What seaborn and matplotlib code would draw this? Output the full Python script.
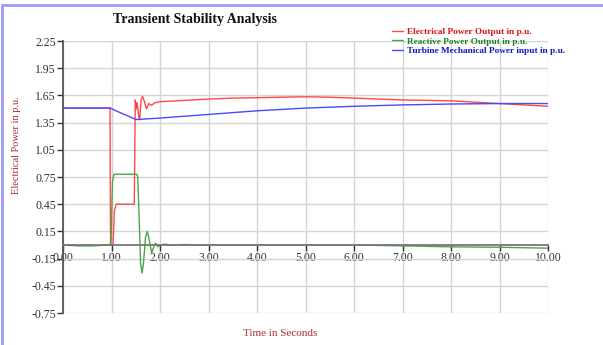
import pandas as pd
import matplotlib.pyplot as plt
import seaborn as sns
from matplotlib.patches import Rectangle

# series
elec_t = [0.0, 0.97, 0.98, 1.03, 1.06, 1.10, 1.47, 1.49, 1.51, 1.53, 1.56, 1.58, 1.61, 1.64,
          1.68, 1.72, 1.77, 1.82, 1.90, 2.0, 2.5, 3.0, 3.5, 4.0, 4.5, 5.0, 5.5, 6.0, 6.5,
          7.0, 7.5, 8.0, 8.5, 9.0, 9.5, 10.0]
elec_v = [1.51, 1.51, 0.0, 0.0, 0.38, 0.45, 0.45, 1.60, 1.50, 1.57, 1.42, 1.38, 1.60, 1.64,
          1.58, 1.50, 1.56, 1.54, 1.57, 1.58, 1.595, 1.61, 1.62, 1.625, 1.63, 1.635, 1.63,
          1.62, 1.61, 1.60, 1.595, 1.59, 1.575, 1.56, 1.545, 1.53]

reac_t = [0.0, 0.3, 0.6, 0.95, 0.99, 1.02, 1.05, 1.52, 1.54, 1.57, 1.60, 1.63, 1.66, 1.70,
          1.74, 1.78, 1.83, 1.87, 1.91, 1.96, 2.0, 2.1, 2.2, 2.5, 3.0, 4.0, 5.0, 6.0, 7.0,
          8.0, 9.0, 10.0]
reac_v = [0.0, -0.01, -0.01, 0.0, 0.02, 0.70, 0.78, 0.78, 0.76, 0.30, -0.20, -0.31, -0.20,
          0.08, 0.15, 0.05, -0.09, -0.02, 0.02, -0.02, 0.0, 0.01, 0.0, 0.005, 0.0, 0.0, 0.0,
          0.0, -0.01, -0.02, -0.025, -0.035]

mech_t = [0.0, 0.98, 1.05, 1.50, 1.55, 2.0, 3.0, 4.0, 5.0, 6.0, 7.0, 8.0, 9.0, 10.0]
mech_v = [1.51, 1.51, 1.49, 1.385, 1.385, 1.40, 1.44, 1.48, 1.51, 1.53, 1.545, 1.555, 1.56, 1.56]

series_names = ['Electrical Power Output in p.u.', 'Reactive Power Output in p.u.',
                'Turbine Mechanical Power input in p.u.']
line_colors = ['#ff4848', '#48a848', '#4848ff']
text_colors = ['#e01010', '#208020', '#1515d0']

y_ticks = [2.25, 1.95, 1.65, 1.35, 1.05, 0.75, 0.45, 0.15, -0.15, -0.45, -0.75]
x_ticks = list(range(0, 11))

df = pd.concat([
    pd.DataFrame({'t': elec_t, 'v': elec_v, 'series': series_names[0]}),
    pd.DataFrame({'t': reac_t, 'v': reac_v, 'series': series_names[1]}),
    pd.DataFrame({'t': mech_t, 'v': mech_v, 'series': series_names[2]}),
])

sns.set_style('white')
plt.rcParams['font.family'] = ['Liberation Serif', 'DejaVu Serif']

fig = plt.figure(figsize=(6.03, 3.45), dpi=100)
ax = fig.add_axes([63 / 603, 1 - 313 / 345, 485 / 603, 272 / 345])

sns.lineplot(data=df, x='t', y='v', hue='series', palette=dict(zip(series_names, line_colors)),
             estimator=None, sort=False, linewidth=1.0, ax=ax)

ax.set_xlim(0, 10)
ax.set_ylim(-0.75, 2.25)
ax.set_xticks(x_ticks)
ax.set_xticklabels([f'{x:.2f}' for x in x_ticks])
ax.set_yticks(y_ticks)
ax.set_yticklabels([f'{y:.2f}' for y in y_ticks])
ax.grid(True, color='#d4d4d4', linewidth=1.0)
ax.set_axisbelow(True)
for s in ['top', 'right']:
    ax.spines[s].set_visible(False)
ax.spines['bottom'].set_position(('data', 0))
ax.spines['bottom'].set_color('#777777')
ax.spines['left'].set_color('#555555')
ax.spines['bottom'].set_linewidth(1.3)
ax.spines['left'].set_linewidth(1.3)
ax.tick_params(axis='both', labelsize=8.5, colors='#333333', length=4, width=1, pad=1,
               bottom=True, left=True, direction='out')
ax.set_xlabel('')
ax.set_ylabel('')

leg = ax.legend(loc='upper left', bbox_to_anchor=(387 / 603, 1 - 23 / 345),
                bbox_transform=fig.transFigure, frameon=False, handlelength=1.2,
                handletextpad=0.4, labelspacing=0.1, borderpad=0,
                prop={'size': 6.7, 'weight': 'bold'})
for txt, c in zip(leg.get_texts(), text_colors):
    txt.set_color(c)

fig.text(195 / 603, 1 - 20 / 345, 'Transient Stability Analysis', ha='center', va='center',
         fontsize=10, fontweight='bold', color='#111111')
fig.text(17 / 603, 1 - 145 / 345, 'Electrical Power in p.u.', rotation=90, ha='center',
         va='center', fontsize=7.5, color='#a83030')
fig.text(280 / 603, 1 - 333 / 345, 'Time in Seconds', ha='center', va='center',
         fontsize=8, color='#a83030')

fig.patches.append(Rectangle((2 / 603, -0.1), 1.2, 1.1 - 5 / 345, transform=fig.transFigure,
                             fill=False, edgecolor='#9999ff', linewidth=2))

plt.savefig('out.png', dpi=100)
